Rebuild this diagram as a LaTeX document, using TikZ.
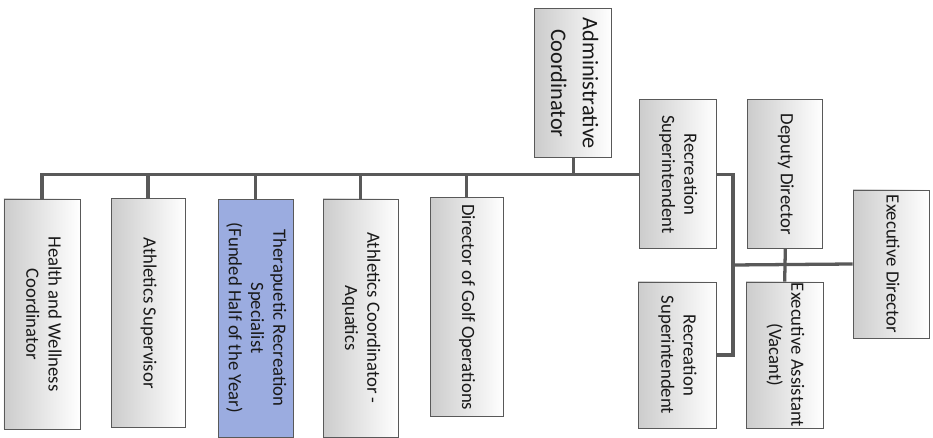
\documentclass[tikz,border=0pt]{standalone}
\usepackage{fontspec}
\setmainfont{Carlito}
\usepackage{graphicx}

\definecolor{therapyblue}{RGB}{155,172,224}
\newcommand{\turned}[1]{\rotatebox{-90}{\begin{tabular}{@{}c@{}}#1\end{tabular}}}

\tikzset{
    postbase/.style = {
        rectangle,
        draw=black!65,
        line width=0.6pt,
        inner sep=0pt,
        text=black!90,
        font=\fontsize{16}{19}\selectfont
    },
    post/.style = {
        postbase,
        left color=black!20,
        middle color=white,
        right color=white
    },
    highlight/.style = {
        postbase,
        fill=therapyblue
    },
    link/.style = {
        line width=2.8pt,
        black!65
    }
}

\begin{document}
\begin{tikzpicture}
    \useasboundingbox (0,0) rectangle (27.99,13.14);

    % Draw the top of the chart
    \node[post, minimum width=2.31cm, minimum height=4.47cm, font=\fontsize{19}{27}\selectfont] (admin) at (17.2,10.64) {\turned{Administrative\\Coordinator}};
    \node[post, minimum width=2.31cm, minimum height=4.47cm] (recsupA) at (20.33,7.91) {\turned{Recreation\\Superintendent}};
    \node[post, minimum width=2.34cm, minimum height=4.38cm] (recsupB) at (20.31,2.49) {\turned{Recreation\\Superintendent}};
    \node[post, minimum width=2.25cm, minimum height=4.47cm] (deputy) at (23.56,7.91) {\turned{Deputy Director}};
    \node[post, minimum width=2.31cm, minimum height=4.38cm] (assistant) at (23.54,2.49) {\turned{Executive Assistant\\(Vacant)}};
    \node[post, minimum width=2.28cm, minimum height=4.44cm] (execdir) at (26.73,5.22) {\turned{Executive Director}};

    % Draw the row of posts
    \node[post, minimum width=2.28cm, minimum height=6.90cm] (health) at (1.26,3.72) {\turned{Health and Wellness\\Coordinator}};
    \node[post, minimum width=2.22cm, minimum height=6.87cm] (athsup) at (4.44,3.74) {\turned{Athletics Supervisor}};
    \node[highlight, minimum width=2.25cm, minimum height=7.14cm] (therapy) at (7.67,3.60) {\turned{Therapuetic Recreation\\Specialist\\(Funded Half of the Year)}};
    \node[post, minimum width=2.25cm, minimum height=7.14cm] (aquatics) at (10.82,3.60) {\turned{Athletics Coordinator -\\Aquatics}};
    \node[post, minimum width=2.19cm, minimum height=6.57cm] (golf) at (14.0,3.92) {\turned{Director of Golf Operations}};

    \coordinate (spine) at (21.99,5.19);

    % Draw all connectors
    \draw[link] (health.north) |- (recsupA.west);
    \draw[link] (athsup.north) -- (athsup.north |- recsupA.west);
    \draw[link] (therapy.north) -- (therapy.north |- recsupA.west);
    \draw[link] (aquatics.north) -- (aquatics.north |- recsupA.west);
    \draw[link] (golf.north) -- (golf.north |- recsupA.west);
    \draw[link] (admin.south) -- (admin.south |- recsupA.west);

    \draw[link] (recsupA.east) -| (spine) |- (recsupB.east);
    \draw[link] (spine) -- (execdir.west);
    \draw[link] (deputy.south) -- (assistant.north);
\end{tikzpicture}
\end{document}
